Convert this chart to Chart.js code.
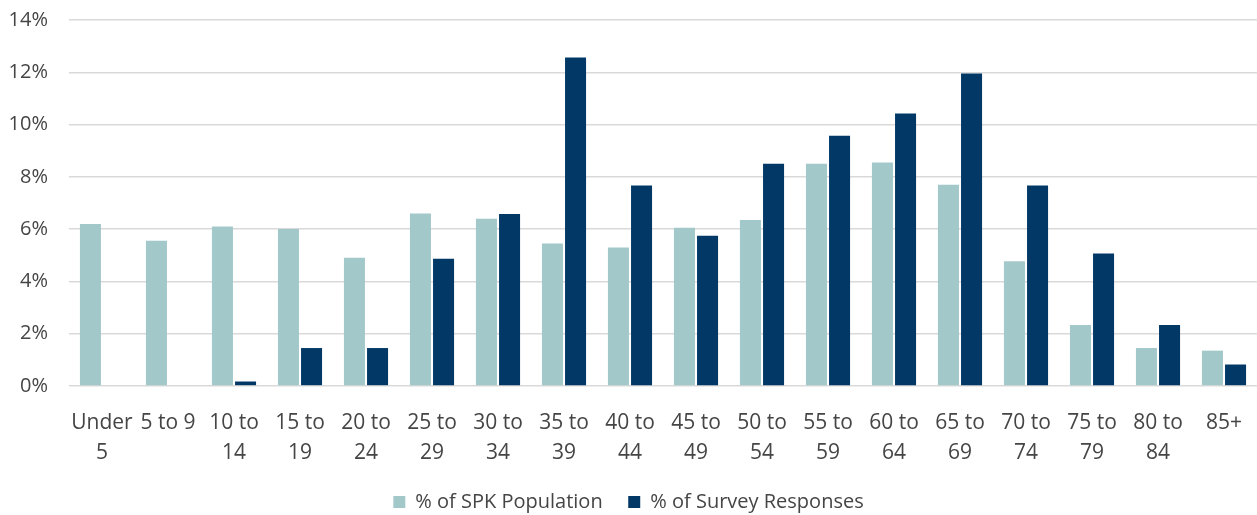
<!DOCTYPE html>
<html>
<head>
<meta charset="utf-8">
<script src="https://cdn.jsdelivr.net/npm/chart.js@4"></script>
<style>
  body { margin: 0; background: #fff; }
  .chart-box { width: 1257px; height: 515px; position: relative; }
</style>
</head>
<body>
<div class="chart-box"><canvas id="ageChart"></canvas></div>
<script>
// Age groups (multi-line labels like the original)
const ageGroups = [
  ['Under', '5'], '5 to 9', ['10 to', '14'], ['15 to', '19'], ['20 to', '24'],
  ['25 to', '29'], ['30 to', '34'], ['35 to', '39'], ['40 to', '44'], ['45 to', '49'],
  ['50 to', '54'], ['55 to', '59'], ['60 to', '64'], ['65 to', '69'], ['70 to', '74'],
  ['75 to', '79'], ['80 to', '84'], '85+'
];

// Percentages
const spkPopulation = [6.2, 5.55, 6.1, 6.0, 4.9, 6.6, 6.4, 5.45, 5.3, 6.05, 6.35, 8.5, 8.55, 7.7, 4.77, 2.33, 1.45, 1.35];
const surveyResponses = [0, 0, 0.17, 1.45, 1.45, 4.87, 6.58, 12.57, 7.67, 5.75, 8.5, 9.57, 10.42, 11.95, 7.67, 5.07, 2.33, 0.82];

const yTicks = [0, 2, 4, 6, 8, 10, 12, 14];

document.addEventListener('DOMContentLoaded', function () {
  const ctx = document.getElementById('ageChart').getContext('2d');
  const textColor = '#454545';
  const fontFamily = "'Open Sans', 'Liberation Sans', sans-serif";

  new Chart(ctx, {
    type: 'bar',
    data: {
      labels: ageGroups,
      datasets: [
        {
          label: '% of SPK Population',
          data: spkPopulation,
          backgroundColor: '#A3C8C9',
          borderWidth: 0
        },
        {
          label: '% of Survey Responses',
          data: surveyResponses,
          backgroundColor: '#023866',
          borderWidth: 0
        }
      ]
    },
    options: {
      responsive: true,
      maintainAspectRatio: false,
      animation: false,
      categoryPercentage: 0.7,
      barPercentage: 0.91,
      layout: { padding: { top: 0, right: 0, bottom: -7, left: 0 } },
      plugins: {
        tooltip: { enabled: false },
        legend: {
          position: 'bottom',
          labels: {
            color: textColor,
            font: { family: fontFamily, size: 20 },
            boxWidth: 12,
            boxHeight: 12,
            padding: 10,
            // a little extra room between the two legend items
            generateLabels: function (chart) {
              const items = Chart.defaults.plugins.legend.labels.generateLabels(chart);
              items[0].text = items[0].text + '   ';
              return items;
            }
          }
        }
      },
      scales: {
        x: {
          grid: { display: false },
          border: { display: false },
          ticks: {
            color: textColor,
            font: { family: fontFamily, size: 21, lineHeight: 1.43 },
            maxRotation: 0,
            autoSkip: false,
            padding: 14
          }
        },
        y: {
          min: 0,
          max: 14,
          afterFit: function (scale) {
            scale.width = 69;
            scale.paddingTop = 20;
          },
          afterBuildTicks: function (scale) {
            scale.ticks = yTicks.map(v => ({ value: v }));
          },
          grid: { color: '#D9D9D9', lineWidth: 1.5, drawTicks: false },
          border: { display: false },
          ticks: {
            color: textColor,
            font: { family: fontFamily, size: 20 },
            padding: 21,
            callback: v => v + '%'
          }
        }
      }
    }
  });
});
</script>
</body>
</html>
